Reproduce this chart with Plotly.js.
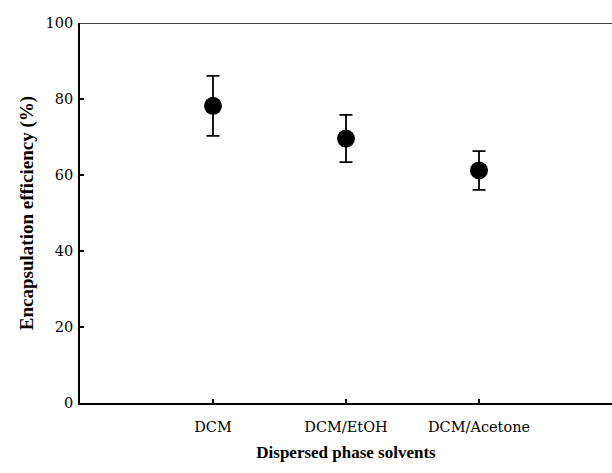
<!DOCTYPE html>
<html>
<head>
<meta charset="utf-8">
<script src="https://cdn.plot.ly/plotly-3.0.1.min.js"></script>
<style>html,body{margin:0;padding:0;background:#fff;}#chart{width:612px;height:473px;}</style>
</head>
<body>
<div id="chart"></div>
<script>
const categories = ["DCM", "DCM/EtOH", "DCM/Acetone"];
const xPositions = [1, 2, 3];
const efficiency = [78.2, 69.6, 61.2];
const errorSD = [7.9, 6.2, 5.1];
const yTicks = [0, 20, 40, 60, 80, 100];

const trace = {
  x: xPositions,
  y: efficiency,
  mode: "markers",
  type: "scatter",
  marker: {color: "#000", size: 18},
  error_y: {type: "data", array: errorSD, visible: true, color: "#000", thickness: 1.8, width: 6.5},
  showlegend: false
};

const tickFont = "DejaVu Serif, serif";
const titleFont = "Liberation Serif, Times New Roman, serif";
const layout = {
  width: 612, height: 473,
  margin: {l: 80, r: 0, t: 23, b: 70},
  paper_bgcolor: "#fff", plot_bgcolor: "#fff",
  xaxis: {
    range: [0, 4], tickvals: xPositions, ticktext: categories,
    showgrid: false, zeroline: false, showline: true, linecolor: "#000", linewidth: 1.8,
    ticks: "inside", ticklen: 4, tickwidth: 1.2, tickcolor: "#000",
    tickfont: {family: tickFont, size: 14.5, color: "#000"},
    ticklabelstandoff: 10,
    title: {text: "<b>Dispersed phase solvents</b>", font: {family: titleFont, size: 17, color: "#000"}, standoff: 12}
  },
  yaxis: {
    range: [0, 100], tickvals: yTicks,
    showgrid: false, zeroline: false, showline: true, linecolor: "#000", linewidth: 1.8,
    ticks: "inside", ticklen: 4, tickwidth: 1.2, tickcolor: "#000",
    tickfont: {family: tickFont, size: 14.5, color: "#000"},
    ticklabelstandoff: 2,
    title: {text: "<b>Encapsulation efficiency (%)</b>", font: {family: titleFont, size: 19, color: "#000"}, standoff: 7}
  },
  shapes: [{type: "line", xref: "paper", yref: "y", x0: 0, x1: 1, y0: 100, y1: 100, line: {color: "#000", width: 1.5}}]
};

Plotly.newPlot("chart", [trace], layout, {displayModeBar: false, staticPlot: true});
</script>
</body>
</html>
